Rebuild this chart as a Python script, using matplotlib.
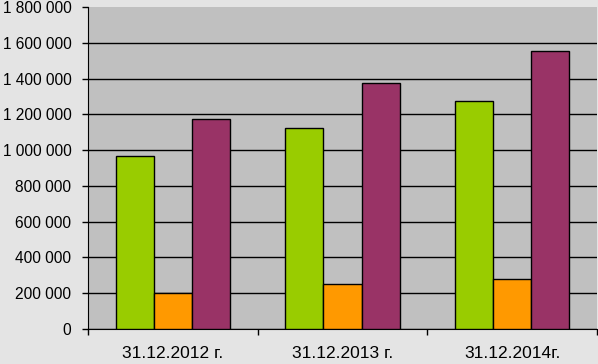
import matplotlib
matplotlib.use("Agg")
import matplotlib.pyplot as plt
import numpy as np
from matplotlib.ticker import FuncFormatter

categories = ["31.12.2012 г.", "31.12.2013 г.", "31.12.2014г."]
series_a = [967000, 1124000, 1274000]
series_b = [200000, 252000, 280000]
series_c = [1172000, 1375000, 1556000]
colors = ["#99cc00", "#ff9900", "#993366"]
yticks = [0, 200000, 400000, 600000, 800000, 1000000, 1200000, 1400000, 1600000, 1800000]

plt.rcParams['font.family'] = ['Liberation Sans', 'DejaVu Sans']

fig = plt.figure(figsize=(5.98, 3.64), dpi=100)
fig.patch.set_facecolor("#e4e4e4")
ax = fig.add_axes([88/598, 1-329/364, (597-88)/598, (329-7)/364])
ax.set_facecolor("#c0c0c0")

x = np.arange(len(categories))
w = 0.224
for i, (vals, c) in enumerate(zip([series_a, series_b, series_c], colors)):
    ax.bar(x + (i-1)*w, vals, width=w, color=c, edgecolor="black", linewidth=1, zorder=3)

ax.set_xlim(-0.5, len(categories)-0.5)
ax.set_ylim(0, 1800000)
ax.set_yticks(yticks)
ax.yaxis.set_major_formatter(FuncFormatter(lambda v, p: f"{int(v):,}".replace(",", " ")))
ax.grid(axis="y", color="black", linewidth=1, zorder=1)
ax.set_axisbelow(True)
ax.get_ygridlines()[-1].set_visible(False)

ax.set_xticks(x)
ax.set_xticklabels(categories)
ax.set_xticks(np.arange(-0.5, len(categories), 1), minor=True)
ax.tick_params(axis="x", which="major", length=0, pad=12.5, labelsize=12.5)
ax.tick_params(axis="x", which="minor", length=4, width=1, direction="out")
ax.tick_params(axis="y", length=4, width=1, pad=8, labelsize=11.2)

for s in ["top", "right"]:
    ax.spines[s].set_visible(False)
ax.spines["left"].set_color("black")
ax.spines["bottom"].set_color("black")

fig.savefig("out.png", dpi=100, facecolor=fig.get_facecolor())
